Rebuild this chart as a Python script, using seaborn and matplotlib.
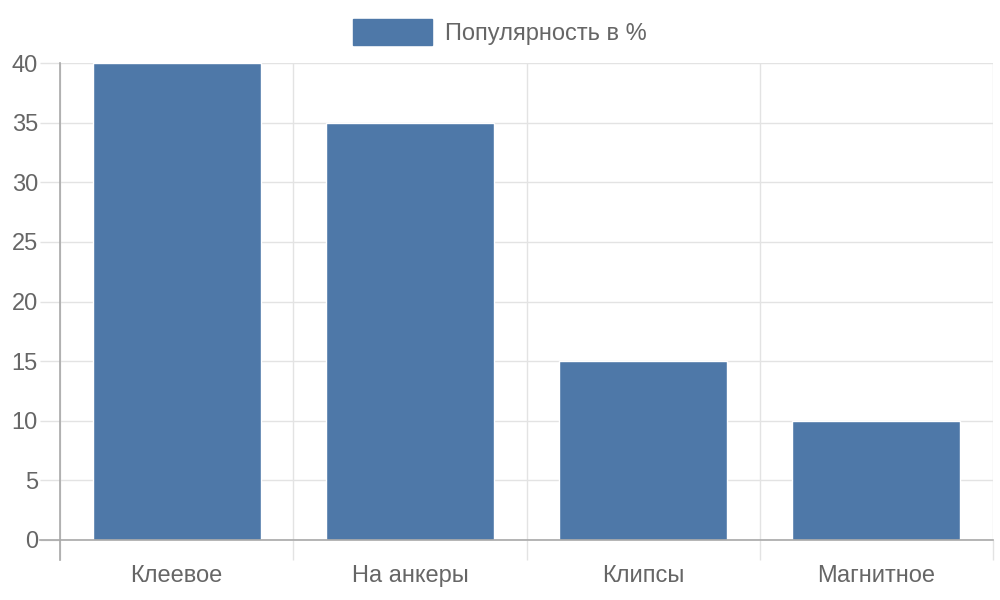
import matplotlib
matplotlib.use("Agg")
import matplotlib.pyplot as plt
import seaborn as sns
import pandas as pd
from matplotlib.patches import Patch

categories = ["Клеевое", "На анкеры", "Клипсы", "Магнитное"]
values = [40, 35, 15, 10]
series_name = "Популярность в %"
y_ticks = [0, 5, 10, 15, 20, 25, 30, 35, 40]

BAR = "#4e78a8"
TXT = "#666666"
GRID = "#e3e3e3"
AXIS = "#a8a8a8"

sns.set_theme(style="white")
plt.rcParams["font.family"] = ["Liberation Sans", "DejaVu Sans"]

df = pd.DataFrame({"cat": categories, "val": values})

fig = plt.figure(figsize=(10, 6), dpi=100)
ax = fig.add_axes([0.06, 0.10, 0.933, 0.795])

sns.barplot(data=df, x="cat", y="val", color=BAR, saturation=1, width=0.72, ax=ax)

ax.set_xlim(-0.5, len(categories) - 0.5)
ax.set_ylim(0, 40)
ax.set_yticks(y_ticks)
ax.set_xlabel("")
ax.set_ylabel("")

# gridlines
ax.yaxis.grid(True, color=GRID, linewidth=1)
ax.set_xticks([i - 0.5 for i in range(len(categories) + 1)], minor=True)
ax.xaxis.grid(True, which="minor", color=GRID, linewidth=1)
ax.xaxis.grid(False, which="major")
ax.set_axisbelow(True)

ax.tick_params(axis="x", which="major", bottom=True, length=0, pad=18, labelsize=17, labelcolor=TXT)
ax.tick_params(axis="x", which="minor", bottom=True, length=14.4, width=1, color=GRID, direction="out")
ax.tick_params(axis="y", which="major", left=True, length=14.4, width=1, color=GRID, pad=1.5,
               labelsize=17, labelcolor=TXT, direction="out")

for s in ["top", "right"]:
    ax.spines[s].set_visible(False)
ax.spines["left"].set_color(AXIS)
ax.spines["bottom"].set_color(AXIS)
ax.spines["left"].set_linewidth(1.2)
ax.spines["bottom"].set_linewidth(1.2)
ax.spines["left"].set_bounds(-1.68, 40)
ax.spines["bottom"].set_bounds(-0.5 - 0.0857, len(categories) - 0.5)

# legend
handle = Patch(facecolor=BAR, edgecolor=BAR)
leg = fig.legend([handle], [series_name], loc="center", bbox_to_anchor=(0.5, 1 - 32 / 600),
                 frameon=False, handlelength=3.37, handleheight=1.29, handletextpad=0.55,
                 prop={"family": ["Liberation Sans", "DejaVu Sans"], "size": 17})
for t in leg.get_texts():
    t.set_color(TXT)

fig.savefig("out.png", dpi=100)
